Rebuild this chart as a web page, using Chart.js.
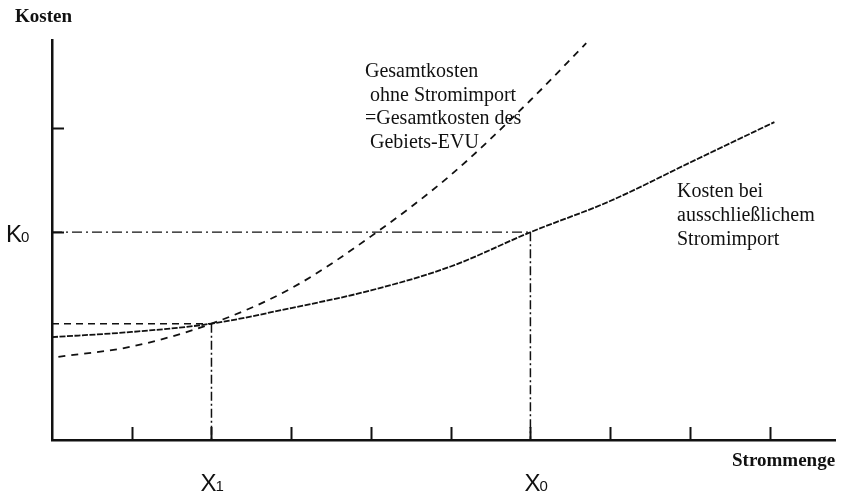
<!DOCTYPE html>
<html>
<head>
<meta charset="utf-8">
<title>Kosten / Strommenge</title>
<script src="https://cdn.jsdelivr.net/npm/chart.js@4.4.1/dist/chart.umd.min.js"></script>
<style>
  html, body { margin: 0; padding: 0; background: #fff; }
</style>
</head>
<body>
<canvas id="chart" width="843" height="493"></canvas>
<script>
// values (x = Strommenge, y = Kosten, arbitrary units)
const importX    = [0, 1, 2, 3, 4, 5, 6, 7, 8, 9.06];
const importCost = [0.99, 1.04, 1.12, 1.27, 1.44, 1.67, 2.0, 2.3, 2.67, 3.06];

const totalX    = [0.08, 1, 2, 3, 4, 5, 6, 6.7];
const totalCost = [0.8, 0.9, 1.12, 1.46, 1.96, 2.55, 3.27, 3.82];

const xTicks = [1, 2, 3, 4, 5, 6, 7, 8, 9];
const yTicks = [2, 3];

const x1 = 2, k1 = 1.12;   // Schnittpunkt
const x0 = 6, k0 = 2;      // K0 / X0

const serif = "'Liberation Serif', 'DejaVu Serif', serif";
const sans = "'Liberation Sans', 'DejaVu Sans', sans-serif";
const ink = '#111';

const toPts = (xs, ys) => xs.map((x, i) => ({x: x, y: ys[i]}));

// inward tick marks + text
const decoPlugin = {
  id: 'deco',
  afterDraw(chart) {
    const ctx = chart.ctx;
    const xs = chart.scales.x, ys = chart.scales.y;
    const left = xs.left, bottom = ys.bottom;
    ctx.save();
    ctx.strokeStyle = ink;
    ctx.lineWidth = 2;
    xTicks.forEach(v => {
      const px = Math.round(xs.getPixelForValue(v)) + 0.5;
      ctx.beginPath();
      ctx.moveTo(px, bottom);
      ctx.lineTo(px, bottom - 13);
      ctx.stroke();
    });
    yTicks.forEach(v => {
      const py = Math.round(ys.getPixelForValue(v)) + 0.5;
      ctx.beginPath();
      ctx.moveTo(left, py);
      ctx.lineTo(left + 12, py);
      ctx.stroke();
    });

    ctx.fillStyle = ink;
    ctx.textBaseline = 'alphabetic';
    ctx.textAlign = 'left';

    // axis titles
    ctx.font = 'bold 19px ' + serif;
    ctx.fillText('Kosten', 15, 22);
    ctx.fillText('Strommenge', 732, 466);

    // K0, X1, X0
    const sub = (main, s, x, y) => {
      ctx.font = '24px ' + sans;
      ctx.fillText(main, x, y);
      const w = ctx.measureText(main).width;
      ctx.font = '15px ' + sans;
      ctx.fillText(s, x + w - 1, y);
    };
    sub('K', '0', 6, ys.getPixelForValue(k0) + 10);
    sub('X', '1', xs.getPixelForValue(x1) - 11, 491);
    sub('X', '0', xs.getPixelForValue(x0) - 6, 491);

    // curve annotations
    ctx.font = '20px ' + serif;
    ['Gesamtkosten', ' ohne Stromimport', '=Gesamtkosten des', ' Gebiets-EVU']
      .forEach((t, i) => ctx.fillText(t, 365, 77 + i * 23.5));
    ['Kosten bei', 'ausschließlichem', 'Stromimport']
      .forEach((t, i) => ctx.fillText(t, 677, 197 + i * 24));
    ctx.restore();
  }
};

const lineDs = (data, dash, width, smooth) => ({
  data: data,
  borderColor: ink,
  borderWidth: width,
  borderDash: dash,
  pointRadius: 0,
  fill: false,
  tension: smooth ? 0.4 : 0,
  cubicInterpolationMode: smooth ? 'monotone' : 'default'
});

new Chart(document.getElementById('chart'), {
  type: 'line',
  data: {
    datasets: [
      lineDs(toPts(importX, importCost), [6, 1.5], 1.8, true),
      lineDs(toPts(totalX, totalCost), [7, 6], 1.8, true),
      lineDs([{x: 0, y: k0}, {x: x0, y: k0}], [10, 4, 2, 4], 1.2, false),
      lineDs([{x: x0, y: k0}, {x: x0, y: 0}], [9, 3, 2, 3], 1.5, false),
      lineDs([{x: 0, y: k1}, {x: x1, y: k1}], [7, 5], 1.5, false),
      lineDs([{x: x1, y: k1}, {x: x1, y: 0}], [9, 3, 2, 3], 1.5, false)
    ]
  },
  options: {
    responsive: false,
    animation: false,
    layout: { padding: { left: 44, top: 40, right: 8, bottom: 45 } },
    plugins: { legend: { display: false }, tooltip: { enabled: false } },
    scales: {
      x: {
        type: 'linear', min: 0, max: 9.82,
        grid: { display: false },
        ticks: { display: false },
        border: { display: true, color: ink, width: 2.5 }
      },
      y: {
        type: 'linear', min: 0, max: 3.85,
        grid: { display: false },
        ticks: { display: false },
        border: { display: true, color: ink, width: 2.5 }
      }
    }
  },
  plugins: [decoPlugin]
});
</script>
</body>
</html>
